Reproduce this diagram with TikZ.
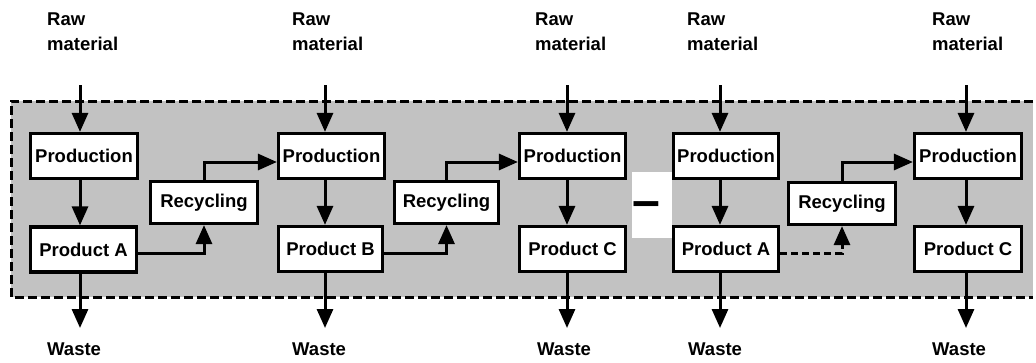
\documentclass[tikz,border=0pt]{standalone}
\usepackage{fontspec}
\setmainfont{Liberation Sans}
\usetikzlibrary{arrows.meta}
\definecolor{bandgray}{RGB}{194,194,194}
\begin{document}
\begin{tikzpicture}[x=1pt,y=-1pt,
  lbl/.style={font=\fontsize{18.5}{25}\selectfont\bfseries, inner sep=0pt},
  box/.style={draw, line width=3.2pt, fill=white, lbl, minimum height=45pt},
  recbox/.style={box, minimum height=42pt},
  arr/.style={line width=3pt, -{Triangle[length=19pt,width=16pt]}},
  dasharr/.style={arr, dash pattern=on 7pt off 4pt},
  band/.style={line width=3pt, dash pattern=on 9pt off 4pt},
  toplbl/.style={lbl, align=left, anchor=north west},
  botlbl/.style={lbl, anchor=base west}
]
\useasboundingbox (0,0) rectangle (1036,362);
\fill[white] (0,0) rectangle (1036,362);

% shaded system band
\fill[bandgray] (11,101) rectangle (1033,297);
\draw[band] (1033,101) -- (11,101) -- (11,297) -- (1033,297);
\fill[white] (632,172) rectangle (672,238);
\node[inner sep=0pt, anchor=base west, font=\fontsize{50}{50}\selectfont\bfseries] (minus) at (632,217) {–};

% column x positions for vertical arrows
\coordinate (x1) at (80,85);
\coordinate (x2) at (325,85);
\coordinate (x3) at (567,85);
\coordinate (x4) at (720,85);
\coordinate (x5) at (966,85);
\coordinate (w1) at (80,328);
\coordinate (w2) at (325,328);
\coordinate (w3) at (567,328);
\coordinate (w4) at (720,328);
\coordinate (w5) at (966,328);

% boxes
\node[box, minimum width=107pt] (p1) at (84,156) {Production};
\node[box, minimum width=106pt] (a1) at (83.5,249.5) {Product A};
\node[recbox, minimum width=107pt] (r1) at (204,202.5) {Recycling};

\node[box, minimum width=106pt] (p2) at (331.5,156) {Production};
\node[box, minimum width=104pt] (b2) at (330.5,249) {Product B};
\node[recbox, minimum width=104pt] (r2) at (446.5,202.5) {Recycling};

\node[box, minimum width=106pt] (p3) at (572.5,156) {Production};
\node[box, minimum width=106pt] (c3) at (572.5,249) {Product C};

\node[box, minimum width=105pt] (p4) at (726,156) {Production};
\node[box, minimum width=105pt] (a4) at (726,249) {Product A};
\node[recbox, minimum width=107pt] (r3) at (842,203.5) {Recycling};

\node[box, minimum width=107pt] (p5) at (968,156) {Production};
\node[box, minimum width=107pt] (c5) at (968,249) {Product C};

% labels
\node[toplbl] (rm1) at (47,13) {Raw\\material};
\node[toplbl] (rm2) at (292,13) {Raw\\material};
\node[toplbl] (rm3) at (535,13) {Raw\\material};
\node[toplbl] (rm4) at (687,13) {Raw\\material};
\node[toplbl] (rm5) at (932,13) {Raw\\material};
\node[botlbl] (ws1) at (47,355) {Waste};
\node[botlbl] (ws2) at (292,355) {Waste};
\node[botlbl] (ws3) at (537,355) {Waste};
\node[botlbl] (ws4) at (688,355) {Waste};
\node[botlbl] (ws5) at (932,355) {Waste};

% raw material in
\draw[arr] (x1) -- (x1 |- p1.north);
\draw[arr] (x2) -- (x2 |- p2.north);
\draw[arr] (x3) -- (x3 |- p3.north);
\draw[arr] (x4) -- (x4 |- p4.north);
\draw[arr] (x5) -- (x5 |- p5.north);

% production to product
\draw[arr] (x1 |- p1.south) -- (x1 |- a1.north);
\draw[arr] (x2 |- p2.south) -- (x2 |- b2.north);
\draw[arr] (x3 |- p3.south) -- (x3 |- c3.north);
\draw[arr] (x4 |- p4.south) -- (x4 |- a4.north);
\draw[arr] (x5 |- p5.south) -- (x5 |- c5.north);

% waste out
\draw[arr] (w1 |- a1.south) -- (w1);
\draw[arr] (w2 |- b2.south) -- (w2);
\draw[arr] (w3 |- c3.south) -- (w3);
\draw[arr] (w4 |- a4.south) -- (w4);
\draw[arr] (w5 |- c5.south) -- (w5);

% recycling loops
\draw[arr] ([yshift=-4pt]a1.east) -| (r1.south);
\draw[arr] (r1.north) |- ([yshift=-6pt]p2.west);
\draw[arr] ([yshift=-4pt]b2.east) -| (r2.south);
\draw[arr] (r2.north) |- ([yshift=-6pt]p3.west);
\draw[dasharr] ([yshift=-4pt]a4.east) -| (r3.south);
\draw[arr] (r3.north) |- ([yshift=-6pt]p5.west);
\end{tikzpicture}
\end{document}
